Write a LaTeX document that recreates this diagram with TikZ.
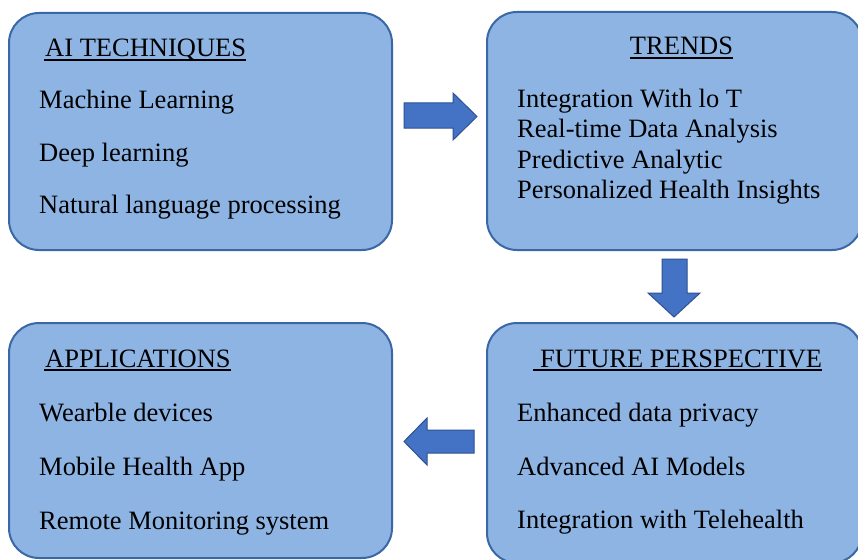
\documentclass[tikz,border=0pt]{standalone}
\usepackage{fontspec}
\setmainfont{Liberation Serif}
\usepackage{tikz}

\definecolor{boxfill}{HTML}{8EB4E3}
\definecolor{boxline}{HTML}{3A67A6}
\definecolor{arrfill}{HTML}{4472C4}
\definecolor{arrline}{HTML}{2F528F}

\tikzset{
	box/.style={draw=boxline, fill=boxfill, line width=2pt, rounded corners=30pt},
	blockarrow/.style={draw=arrline, fill=arrfill, line width=1pt},
	item/.style={anchor=base west, inner sep=0pt, font=\fontsize{26.5}{30}\selectfont},
	uline/.style={line width=1.8pt}
}

\begin{document}
\begin{tikzpicture}[x=1pt, y=-1pt]
		\useasboundingbox (0, 0) rectangle (858, 559);
		\fill[white] (0, 0) rectangle (858, 559);
		\clip (0, 0) rectangle (858, 559);

		\draw[box] (9, 13) rectangle (392, 250);
		\draw[box] (487, 12) rectangle (862, 250);
		\draw[box] (487, 323) rectangle (862, 563);
		\draw[box] (9, 323) rectangle (392, 558);

		\node[item] (tech) at (45, 57) {AI TECHNIQUES};
		\node[item, anchor=base] (trend) at (681.5, 55) {TRENDS};
		\node[item] (fut) at (540, 367) {FUTURE PERSPECTIVE};
		\node[item] (app) at (45, 367) {APPLICATIONS};

		\draw[uline] ([shift={(-1pt, -3pt)}]tech.base west) -- ([yshift=-3pt]tech.base east);
		\draw[uline] ([yshift=-3pt]trend.base west) -- ([yshift=-3pt]trend.base east);
		\draw[uline] ([shift={(-7pt, -3pt)}]fut.base west) -- ([yshift=-3pt]fut.base east);
		\draw[uline] ([shift={(-1pt, -3pt)}]app.base west) -- ([yshift=-3pt]app.base east);

		\foreach \txt [count=\i] in {Machine Learning, Deep learning, Natural language processing} {
			\node[item] (tech\i) at (39, 57 + 52*\i) {\txt};
		}
		\foreach \txt [count=\i] in {Integration With lo T, Real-time Data Analysis, Predictive Analytic, Personalized Health Insights} {
			\node[item] (trend\i) at (517, 76.5 + 30.5*\i) {\txt};
		}
		\foreach \txt [count=\i] in {Enhanced data privacy, Advanced AI Models, Integration with Telehealth} {
			\node[item] (fut\i) at (517, 368 + 53.5*\i) {\txt};
		}
		\foreach \txt [count=\i] in {Wearble devices, Mobile Health App, Remote Monitoring system} {
			\node[item] (app\i) at (39, 367 + 54*\i) {\txt};
		}

		\draw[blockarrow] (404, 103) -- (453, 103) -- (453, 93) -- (477, 116.5) -- (453, 140) -- (453, 128) -- (404, 128) -- cycle;
		\draw[blockarrow] (662, 259) -- (687, 259) -- (687, 293) -- (700, 293) -- (674, 317) -- (648, 293) -- (662, 293) -- cycle;
		\draw[blockarrow] (474, 430) -- (427, 430) -- (427, 418) -- (404, 441.5) -- (427, 465) -- (427, 453) -- (474, 453) -- cycle;
	\end{tikzpicture}
\end{document}
